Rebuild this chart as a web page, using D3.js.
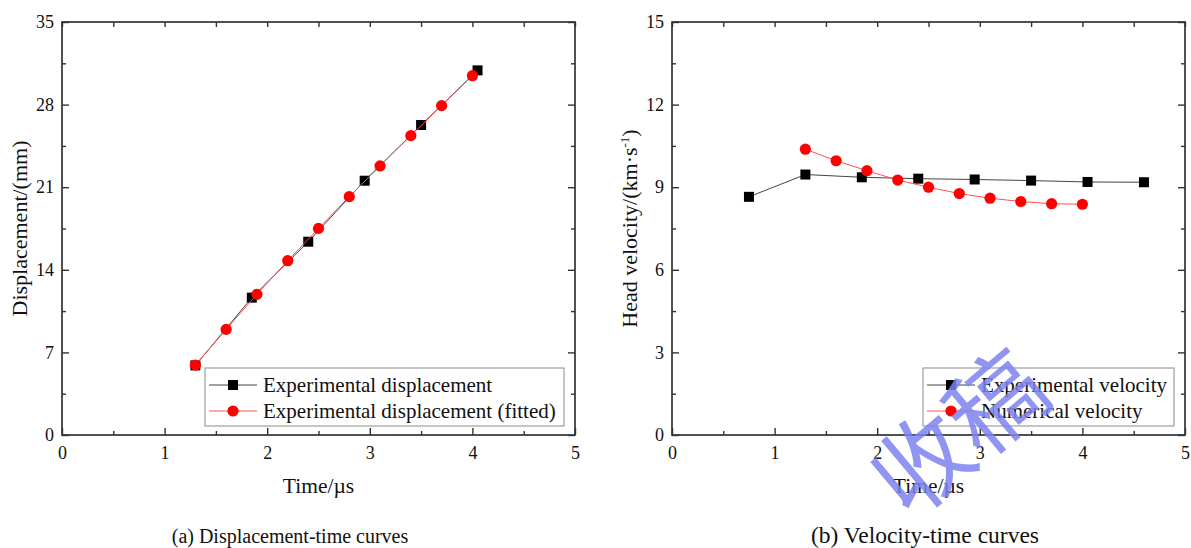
<!DOCTYPE html>
<html>
<head>
<meta charset="utf-8">
<script src="https://cdn.jsdelivr.net/npm/d3@7"></script>
<style>
    body { margin: 0; background: #fff; }
    svg text { font-family: "Liberation Serif", "Times New Roman", serif; fill: #111; }
</style>
</head>
<body>
<svg id="chart" width="1191" height="548"></svg>
<script>
// values
var xTicks = [0, 1, 2, 3, 4, 5];
var dispTicks = [0, 7, 14, 21, 28, 35];
var velTicks = [0, 3, 6, 9, 12, 15];

// (a) displacement
var expTime = [1.3, 1.85, 2.4, 2.95, 3.5, 4.05];
var expDisp = [5.9, 11.64, 16.38, 21.55, 26.27, 30.9];
var fitTime = [1.3, 1.6, 1.9, 2.2, 2.5, 2.8, 3.1, 3.4, 3.7, 4.0];
var fitDisp = [5.93, 8.95, 11.92, 14.77, 17.51, 20.2, 22.8, 25.37, 27.91, 30.45];

// (b) velocity
var velExpTime = [0.75, 1.3, 1.85, 2.4, 2.95, 3.5, 4.05, 4.6];
var velExp = [8.65, 9.46, 9.36, 9.31, 9.28, 9.24, 9.19, 9.18];
var velNumTime = [1.3, 1.6, 1.9, 2.2, 2.5, 2.8, 3.1, 3.4, 3.7, 4.0];
var velNum = [10.38, 9.96, 9.6, 9.26, 9.0, 8.77, 8.6, 8.48, 8.4, 8.38];

var svg = d3.select("#chart");
var top_ = 22, bottom = 435, plotW = 513;

function zip(xs, ys) {
    return xs.map(function (x, i) { return [x, ys[i]]; });
}

function drawPanel(cfg) {
    var g = svg.append("g");
    var x = d3.scaleLinear().domain([0, 5]).range([cfg.left, cfg.left + plotW]);
    var y = d3.scaleLinear().domain([0, cfg.yTicks[cfg.yTicks.length - 1]]).range([bottom, top_]);
    var yStep = cfg.yTicks[1] - cfg.yTicks[0];
    var xMinor = d3.range(0.5, 5, 1);
    var yMinor = cfg.yTicks.slice(0, -1).map(function (v) { return v + yStep / 2; });

    // all ticks point inward, mirrored on top and right
    function styleAxis(sel) {
        sel.select(".domain").remove();
        sel.selectAll("line").attr("stroke", "#333").attr("stroke-width", 1.4);
        sel.selectAll("text").style("font-size", "18px").attr("fill", "#111");
    }
    g.append("g").attr("transform", "translate(0," + bottom + ")")
        .call(d3.axisBottom(x).tickValues(xTicks).tickSize(-7).tickPadding(11).tickFormat(d3.format("d")))
        .call(styleAxis);
    g.append("g").attr("transform", "translate(0," + bottom + ")")
        .call(d3.axisBottom(x).tickValues(xMinor).tickSize(-4).tickFormat(""))
        .call(styleAxis);
    g.append("g").attr("transform", "translate(0," + top_ + ")")
        .call(d3.axisTop(x).tickValues(xTicks.concat(xMinor)).tickSize(-5).tickFormat(""))
        .call(styleAxis);
    g.append("g").attr("transform", "translate(" + cfg.left + ",0)")
        .call(d3.axisLeft(y).tickValues(cfg.yTicks).tickSize(-7).tickPadding(8).tickFormat(d3.format("d")))
        .call(styleAxis);
    g.append("g").attr("transform", "translate(" + cfg.left + ",0)")
        .call(d3.axisLeft(y).tickValues(yMinor).tickSize(-4).tickFormat(""))
        .call(styleAxis);
    g.append("g").attr("transform", "translate(" + (cfg.left + plotW) + ",0)")
        .call(d3.axisRight(y).tickValues(cfg.yTicks).tickSize(-7).tickFormat(""))
        .call(styleAxis);
    g.append("g").attr("transform", "translate(" + (cfg.left + plotW) + ",0)")
        .call(d3.axisRight(y).tickValues(yMinor).tickSize(-4).tickFormat(""))
        .call(styleAxis);

    // frame
    g.append("rect")
        .attr("x", cfg.left).attr("y", top_)
        .attr("width", plotW).attr("height", bottom - top_)
        .attr("fill", "none").attr("stroke", "#333").attr("stroke-width", 1.7);

    var line = d3.line().x(function (d) { return x(d[0]); }).y(function (d) { return y(d[1]); });

    cfg.series.forEach(function (s) {
        var pts = zip(s.xs, s.ys);
        g.append("path").datum(pts)
            .attr("d", line).attr("fill", "none")
            .attr("stroke", s.lineColor).attr("stroke-width", 1);
        drawMarkers(g, pts.map(function (p) { return [x(p[0]), y(p[1])]; }), s);
    });

    // legend
    var lg = g.append("g");
    lg.append("rect")
        .attr("x", cfg.legend.x).attr("y", 368)
        .attr("width", cfg.legend.w).attr("height", 58)
        .attr("fill", "#fff").attr("stroke", "#8a8a8a").attr("stroke-width", 1);
    cfg.series.forEach(function (s, i) {
        var ly = 385 + i * 26;
        lg.append("line")
            .attr("x1", cfg.legend.x + 4).attr("x2", cfg.legend.x + 52)
            .attr("y1", ly).attr("y2", ly)
            .attr("stroke", s.lineColor).attr("stroke-width", 1);
        drawMarkers(lg, [[cfg.legend.x + 28, ly]], s);
        lg.append("text")
            .attr("x", cfg.legend.x + 58).attr("y", ly + 7)
            .style("font-size", "21px")
            .text(s.name);
    });

    // axis titles
    g.append("text")
        .attr("x", cfg.left + plotW / 2).attr("y", 493)
        .attr("text-anchor", "middle").style("font-size", "21.5px")
        .text("Time/\u00b5s");
    var yt = g.append("text")
        .attr("transform", "translate(" + (cfg.left - 35) + "," + ((top_ + bottom) / 2) + ") rotate(-90)")
        .attr("text-anchor", "middle").style("font-size", "22px");
    cfg.yTitle(yt);

    g.append("text")
        .attr("x", cfg.caption.x).attr("y", 543)
        .attr("text-anchor", "middle").style("font-size", cfg.caption.size)
        .text(cfg.caption.text);
}

function drawMarkers(g, pts, s) {
    if (s.shape === "square") {
        g.selectAll(null).data(pts).enter().append("rect")
            .attr("x", function (d) { return d[0] - 5; })
            .attr("y", function (d) { return d[1] - 5; })
            .attr("width", 10).attr("height", 10)
            .attr("fill", s.color);
    } else {
        g.selectAll(null).data(pts).enter().append("circle")
            .attr("cx", function (d) { return d[0]; })
            .attr("cy", function (d) { return d[1]; })
            .attr("r", 5.6)
            .attr("fill", s.color);
    }
}

drawPanel({
    left: 62,
    yTicks: dispTicks,
    caption: { text: "(a) Displacement-time curves", x: 290, size: "20px" },
    legend: { x: 205, w: 359 },
    yTitle: function (t) { t.text("Displacement/(mm)"); },
    series: [
        { name: "Experimental displacement", xs: expTime, ys: expDisp, shape: "square", color: "#000", lineColor: "#444" },
        { name: "Experimental displacement (fitted)", xs: fitTime, ys: fitDisp, shape: "circle", color: "#ff0000", lineColor: "#ff5050" }
    ]
});

drawPanel({
    left: 672,
    yTicks: velTicks,
    caption: { text: "(b) Velocity-time curves", x: 925, size: "23.5px" },
    legend: { x: 923, w: 251 },
    yTitle: function (t) {
        t.append("tspan").text("Head velocity/(km\u00b7s");
        t.append("tspan").attr("dy", -8).style("font-size", "13px").text("-1");
        t.append("tspan").attr("dy", 8).text(")");
    },
    series: [
        { name: "Experimental velocity", xs: velExpTime, ys: velExp, shape: "square", color: "#000", lineColor: "#444" },
        { name: "Numerical velocity", xs: velNumTime, ys: velNum, shape: "circle", color: "#ff0000", lineColor: "#ff5050" }
    ]
});

// watermark stamped over panel (b); style() so the css fill does not win
svg.append("text")
    .attr("transform", "translate(955,428) rotate(-40)")
    .attr("text-anchor", "middle").attr("dominant-baseline", "central")
    .style("font-family", "'Noto Sans CJK SC', sans-serif")
    .style("font-size", "96px")
    .style("fill", "#7d82ee").style("fill-opacity", 0.85)
    .text("收稿");
</script>
</body>
</html>
